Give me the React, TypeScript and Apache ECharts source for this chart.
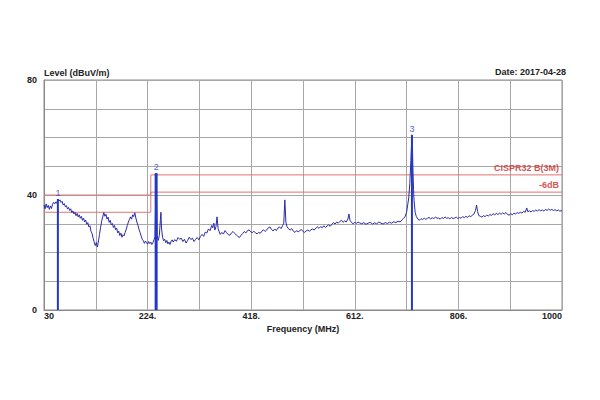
import { useEffect, useRef } from 'react';
import * as echarts from 'echarts';

// Measured trace (frequency in MHz, level in dBuV/m)
const freqMHz = [
  30, 32, 34, 36, 38, 40, 42, 44, 46, 48, 50, 52, 54, 56, 58, 60, 62, 64, 66, 68,
  70, 72, 74, 76, 78, 80, 82, 84, 86, 88, 90, 92, 94, 96, 98, 100, 102, 104, 106, 108,
  110, 112, 114, 116, 118, 120, 122, 124, 126, 128, 130, 132, 134, 136, 138, 140, 142, 144, 146, 148,
  150, 152, 154, 156, 158, 160, 162, 164, 166, 168, 170, 172, 174, 176, 178, 180, 182, 184, 186, 188,
  190, 192, 194, 196, 198, 200, 202, 204, 206, 208, 210, 212, 214, 216, 218, 220, 222, 224, 226, 228,
  230, 232, 234, 236, 238, 240, 242, 244, 246, 248, 249, 250, 252, 254, 256, 258, 260, 262, 264, 266,
  268, 270, 272, 275, 278, 281, 284, 287, 290, 293, 296, 299, 302, 305, 308, 311, 314, 317, 320, 323,
  326, 329, 332, 335, 338, 341, 344, 346, 348, 350, 352, 354, 356, 358, 360, 363, 366, 369, 372, 375,
  378, 381, 384, 387, 390, 393, 396, 399, 402, 405, 408, 411, 414, 417, 420, 423, 426, 429, 432, 435,
  438, 441, 444, 447, 450, 453, 456, 459, 462, 465, 468, 471, 474, 477, 479, 481, 483, 485, 488, 491,
  494, 497, 500, 503, 506, 509, 512, 515, 518, 521, 524, 527, 530, 533, 536, 539, 542, 545, 548, 551,
  554, 557, 560, 563, 566, 569, 572, 575, 578, 581, 584, 587, 590, 593, 596, 599, 601, 603, 606, 609,
  612, 615, 618, 621, 625, 629, 633, 637, 641, 645, 649, 653, 657, 661, 665, 669, 673, 677, 681, 685,
  689, 693, 697, 700, 703, 706, 709, 711, 713, 715, 717, 719, 720, 721, 722, 723, 725, 727, 730, 733,
  736, 739, 742, 745, 748, 751, 754, 757, 760, 763, 766, 769, 772, 775, 778, 781, 784, 787, 790, 793,
  796, 799, 802, 805, 808, 811, 814, 817, 820, 823, 826, 829, 832, 835, 838, 840, 842, 844, 847, 850,
  853, 856, 859, 862, 865, 868, 871, 874, 877, 880, 883, 886, 889, 892, 895, 898, 901, 904, 907, 910,
  913, 916, 919, 922, 925, 928, 931, 934, 936, 939, 942, 945, 948, 951, 954, 957, 960, 963, 966, 969,
  972, 975, 978, 981, 984, 987, 990, 993, 996, 1000,
];
const levelDb = [
  36.5, 35.2, 36.9, 35.6, 36.4, 35.0, 36.2, 35.3, 36.8, 37.4, 36.9, 37.6, 37.1, 38.6, 37.9, 38.3, 37.4, 37.8, 36.5, 37.0,
  35.9, 36.3, 35.1, 35.7, 34.6, 35.2, 33.9, 34.5, 33.4, 34.0, 32.8, 33.6, 32.4, 33.1, 31.9, 32.6, 31.2, 32.0, 30.6, 31.3,
  29.8, 30.4, 28.9, 29.3, 27.4, 26.6, 25.0, 23.6, 22.4, 23.5, 21.9, 24.0, 26.3, 28.8, 30.9, 32.4, 33.9, 32.6, 33.3, 31.6,
  32.3, 30.5, 31.2, 29.6, 30.1, 28.7, 29.4, 27.9, 28.5, 26.8, 27.4, 25.9, 26.7, 25.3, 26.2, 25.8, 27.0, 28.1, 29.4, 30.6,
  31.5, 32.4, 31.6, 33.1, 32.5, 33.8, 32.0, 30.6, 29.4, 28.0, 26.9, 25.7, 24.6, 24.1, 23.2, 24.0, 23.4, 22.9, 23.8, 23.1,
  23.6, 22.8, 23.5, 24.4, 25.6, 47.6, 25.8, 24.2, 26.0, 31.5, 34.0, 28.5, 25.3, 24.1, 24.6, 23.4, 24.2, 23.0, 23.6, 22.8,
  23.9, 24.4, 23.6, 24.5, 23.9, 25.2, 24.6, 25.0, 23.8, 24.6, 23.3, 24.2, 25.3, 24.5, 25.0, 23.8, 24.6, 25.2, 24.4, 25.6,
  26.3, 25.6, 27.1, 26.8, 28.2, 27.6, 29.4, 28.6, 30.2, 27.8, 29.0, 32.4, 28.4, 27.2, 26.3, 27.0, 26.4, 27.6, 26.9, 26.2,
  26.0, 26.8, 27.3, 26.7, 26.1, 25.6, 25.2, 26.0, 26.6, 27.3, 26.8, 27.6, 27.9, 27.2, 26.9, 27.4, 26.8, 26.5, 27.0, 26.7,
  27.4, 27.9, 27.3, 27.8, 28.6, 28.9, 28.0, 27.5, 28.2, 27.6, 28.5, 28.9, 28.3, 29.4, 30.2, 38.3, 30.5, 29.0, 28.2, 27.8,
  28.3, 27.4, 27.0, 27.6, 27.2, 27.6, 28.0, 27.3, 27.0, 27.5, 27.8, 27.4, 27.9, 28.2, 27.8, 28.5, 28.9, 28.4, 29.0, 28.6,
  29.3, 28.7, 29.2, 29.6, 29.1, 29.8, 30.4, 29.9, 30.6, 30.2, 30.8, 31.2, 30.5, 31.0, 30.6, 31.6, 33.4, 31.2, 30.4, 30.0,
  30.5, 30.1, 30.6, 30.3, 30.0, 30.4, 29.8, 30.2, 30.5, 29.9, 30.3, 30.0, 30.6, 30.2, 29.9, 30.4, 30.1, 30.5, 30.2, 30.7,
  30.4, 30.9, 30.6, 31.3, 31.8, 32.4, 34.0, 36.5, 39.0, 44.0, 52.0, 60.9, 56.0, 48.0, 42.0, 38.0, 34.0, 32.6, 31.6, 31.2,
  31.8, 31.4, 32.0, 31.5, 31.9, 32.2, 31.7, 32.1, 31.8, 32.3, 31.9, 32.0, 31.6, 32.2, 31.8, 32.4, 31.9, 32.1, 31.7, 32.2,
  31.8, 32.0, 32.3, 31.8, 32.2, 31.9, 32.5, 32.1, 32.6, 32.2, 32.8, 32.4, 33.0, 33.4, 34.6, 36.5, 34.2, 32.9, 32.6, 32.3,
  32.8, 32.5, 33.0, 32.7, 33.2, 32.9, 33.5, 33.1, 33.6, 33.2, 33.7, 33.3, 33.8, 33.4, 33.9, 33.2, 33.0, 33.5, 33.1, 33.7,
  33.4, 33.9, 33.6, 34.0, 33.7, 34.3, 34.0, 35.5, 34.2, 34.5, 34.1, 34.6, 34.3, 34.8, 34.4, 34.9, 34.5, 34.8, 34.4, 35.0,
  34.6, 35.1, 34.7, 35.0, 34.6, 34.9, 34.5, 34.8, 34.4, 34.6,
];

// Markers
const markerNames = ['1', '2', '3'];
const markerFreq = [56, 240, 719];
const markerLevel = [38.6, 47.6, 60.9];

// Limit lines
const limitFreq = [30, 230, 230, 1000];
const limitLevel = [40, 40, 47, 47];
const marginLevel = [34, 34, 41, 41];
const limitNames = ['CISPR32 B(3M)', '-6dB'];

// Axes
const xStart = 30;
const xEnd = 1000;
const xStep = 97;
const xTickLabels = ['30', '224.', '418.', '612.', '806.', '1000'];
const yTickLabels: Record<number, string> = { 0: '0', 40: '40', 80: '80' };

const FONT = '"Liberation Sans", Arial, sans-serif';
const TRACE = '#2a2aa8';
const MARK = '#2438c8';
const LIMIT = '#e07474';
const LIMIT_TEXT = '#d02424';

export default function App() {
  const ref = useRef<HTMLDivElement>(null);
  useEffect(() => {
    if (!ref.current) return;
    const chart = echarts.init(ref.current, null, { renderer: 'svg' });
    const off = (f: number) => f - xStart;
    const trace = freqMHz.map((f, i) => [off(f), levelDb[i]]);
    const markerSeries = markerFreq.map((f, i) => ({
      type: 'line',
      silent: true,
      symbol: 'none',
      lineStyle: { color: MARK, width: i === 1 ? 3 : 2 },
      data: [
        [off(f), 0],
        [off(f), markerLevel[i]],
      ],
      z: 4,
    }));
    chart.setOption({
      animation: false,
      backgroundColor: '#ffffff',
      grid: { left: 44, right: 38, top: 80, bottom: 90, show: true, borderColor: '#8a8a8a', borderWidth: 1 },
      xAxis: {
        type: 'value',
        min: 0,
        max: xEnd - xStart,
        interval: xStep,
        name: 'Frequency (MHz)',
        nameLocation: 'middle',
        nameGap: 14,
        nameTextStyle: { fontFamily: FONT, fontWeight: 'bold', fontSize: 9, color: '#222' },
        axisLine: { show: true, lineStyle: { color: '#8a8a8a' } },
        axisTick: { show: false },
        splitLine: { show: true, lineStyle: { color: '#a8a8a8', width: 1 } },
        axisLabel: {
          margin: 1,
          fontFamily: FONT,
          fontWeight: 'bold',
          fontSize: 9,
          color: '#222',
          alignMinLabel: 'left',
          alignMaxLabel: 'right',
          formatter: (v: number) => {
            const i = Math.round(v / xStep);
            return i % 2 === 0 ? xTickLabels[i / 2] ?? '' : '';
          },
        },
      },
      yAxis: {
        type: 'value',
        min: 0,
        max: 80,
        interval: 10,
        name: 'Level (dBuV/m)',
        nameLocation: 'end',
        nameGap: 3,
        nameTextStyle: { fontFamily: FONT, fontWeight: 'bold', fontSize: 9, color: '#222', align: 'left', verticalAlign: 'bottom' },
        axisLine: { show: true, lineStyle: { color: '#8a8a8a' } },
        axisTick: { show: false },
        splitLine: { show: true, lineStyle: { color: '#a8a8a8', width: 1 } },
        axisLabel: {
          margin: 7,
          fontFamily: FONT,
          fontWeight: 'bold',
          fontSize: 9,
          color: '#222',
          formatter: (v: number) => yTickLabels[v] ?? '',
        },
      },
      graphic: [
        {
          type: 'text',
          right: 34,
          top: 67,
          style: { text: 'Date: 2017-04-28', fontFamily: FONT, fontWeight: 'bold', fontSize: 9, fill: '#222' },
        },
      ],
      series: [
        {
          type: 'line',
          silent: true,
          symbol: 'none',
          lineStyle: { color: LIMIT, width: 1 },
          data: limitFreq.map((f, i) => [off(f), limitLevel[i]]),
          z: 2,
        },
        {
          type: 'line',
          silent: true,
          symbol: 'none',
          lineStyle: { color: LIMIT, width: 1 },
          data: limitFreq.map((f, i) => [off(f), marginLevel[i]]),
          z: 2,
        },
        {
          type: 'line',
          silent: true,
          symbol: 'none',
          lineStyle: { color: TRACE, width: 1 },
          data: trace,
          z: 3,
        },
        ...markerSeries,
        {
          type: 'scatter',
          silent: true,
          symbolSize: 1,
          itemStyle: { color: 'transparent' },
          data: markerFreq.map((f, i) => ({ value: [off(f), markerLevel[i]], name: markerNames[i] })),
          label: {
            show: true,
            formatter: '{b}',
            position: 'top',
            distance: 1,
            color: MARK,
            fontFamily: FONT,
            fontSize: 9,
          },
          z: 5,
        },
        {
          type: 'scatter',
          silent: true,
          symbolSize: 1,
          itemStyle: { color: 'transparent' },
          data: [
            { value: [off(xEnd), limitLevel[3]], name: limitNames[0] },
            { value: [off(xEnd), marginLevel[3]], name: limitNames[1] },
          ],
          label: {
            show: true,
            formatter: '{b}',
            position: 'top',
            align: 'right',
            distance: 2,
            offset: [-3, 0],
            color: LIMIT_TEXT,
            fontFamily: FONT,
            fontWeight: 'bold',
            fontSize: 9,
          },
          z: 5,
        },
      ],
    });
    return () => chart.dispose();
  }, []);
  return <div ref={ref} style={{ width: 600, height: 400, position: 'absolute', left: 0, top: 0 }} />;
}
